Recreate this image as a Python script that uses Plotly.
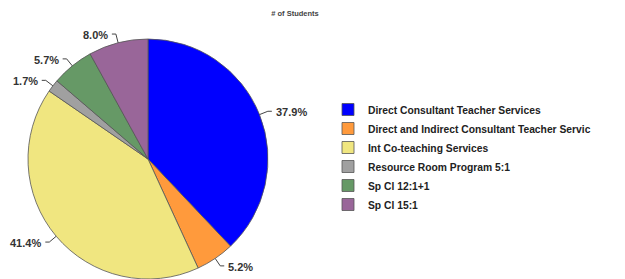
import math
import plotly.graph_objects as go

labels = ["Direct Consultant Teacher Services",
          "Direct and Indirect Consultant Teacher Servic",
          "Int Co-teaching Services",
          "Resource Room Program 5:1",
          "Sp Cl 12:1+1",
          "Sp Cl 15:1"]
values = [37.9, 5.2, 41.4, 1.7, 5.7, 8.0]
colors = ["#0000FF", "#FF9A3C", "#F0E680", "#A0A0A0", "#669966", "#996699"]

W, H = 625, 279
OFF = 8  # page body margin in the viewer
# pie placement (screen pixels)
cx, cy, r = 148, 159, 120

def px2paper(x, y):
    return (x - OFF) / W, 1 - (y - OFF) / H

dx0, dy0 = px2paper(cx - r, cy + r)
dx1, dy1 = px2paper(cx + r, cy - r)

fig = go.Figure(go.Pie(
    labels=labels, values=values, sort=False, direction="clockwise",
    marker=dict(colors=colors, line=dict(color="#555555", width=0.8)),
    textposition="none",
    domain=dict(x=[dx0, dx1], y=[max(0, dy0), min(1, dy1)]),
    hoverinfo="label+percent",
))

# outside labels with leader lines, derived from slice angles
total = sum(values)
items = []
acc = 0.0
for v in values:
    mid = (acc + v / 2) / total * 2 * math.pi
    acc += v
    sx, sy = math.sin(mid), -math.cos(mid)
    ex, ey = cx + r * sx, cy + r * sy
    px, py = cx + (r + 9) * sx, cy + (r + 9) * sy
    side = 1 if sx >= 0 else -1
    items.append(dict(v=v, ex=ex, ey=ey, px=px, py=py, side=side))

# simple overlap resolution per side (push upward)
for side in (1, -1):
    grp = sorted([it for it in items if it["side"] == side], key=lambda d: -d["py"])
    for a, b in zip(grp, grp[1:]):
        if a["py"] - b["py"] < 20:
            b["py"] = a["py"] - 20

for it in items:
    hx = it["px"] + 4 * it["side"]
    x0, y0 = px2paper(it["ex"], it["ey"])
    x1, y1 = px2paper(it["px"], it["py"])
    x2, y2 = px2paper(hx, it["py"])
    fig.add_shape(type="path", xref="paper", yref="paper",
                  path=f"M {x0} {y0} L {x1} {y1} L {x2} {y2}",
                  line=dict(color="#444444", width=1))
    tx, ty = px2paper(hx + 2 * it["side"], it["py"] + 1)
    fig.add_annotation(x=tx, y=ty, xref="paper", yref="paper",
                       text=f"{it['v']:.1f}%", showarrow=False,
                       xanchor="left" if it["side"] > 0 else "right", yanchor="middle",
                       font=dict(family="Liberation Sans", size=11, color="#333333", weight="bold"))

fig.update_layout(
    width=W, height=H, margin=dict(l=0, r=0, t=0, b=0),
    paper_bgcolor="white", plot_bgcolor="white",
    title=dict(text="<b># of Students</b>", x=287/W, xanchor="center", y=1 - 5/H, yanchor="middle",
               font=dict(family="Liberation Sans", size=7.5, color="#444444")),
    legend=dict(x=320/W, y=1 - 149/H, xanchor="left", yanchor="middle",
                font=dict(family="Liberation Sans", size=10.3, color="#222222", weight="bold"),
                bgcolor="rgba(0,0,0,0)"),
)
fig.write_html("out.html")
